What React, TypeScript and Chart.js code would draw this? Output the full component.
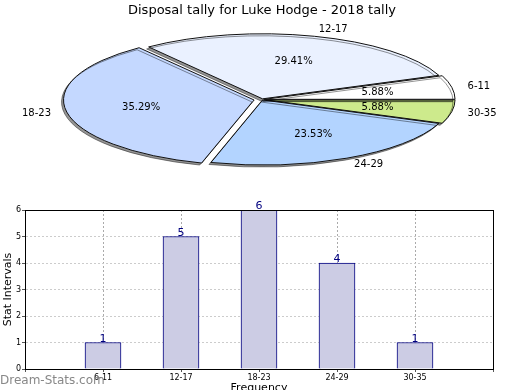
import React, { useEffect, useRef } from 'react';
import { Chart, registerables } from 'chart.js';

Chart.register(...registerables);

const FONT = "'DejaVu Sans', sans-serif";
Chart.defaults.font.family = FONT;

// ---- data ----
const titleText = 'Disposal tally for Luke Hodge - 2018 tally';
const categories = ['6-11', '12-17', '18-23', '24-29', '30-35'];
const counts = [1, 5, 6, 4, 1];
const sliceColors = ['#ffffff', '#eaf1ff', '#c4d8ff', '#b3d4ff', '#cdea8c'];
const sliceOffsets = [10, 8, 32, 6, 10];
const yMin = 0;
const yMax = 6;
const yStep = 1;
const xTitle = 'Frequency';
const yTitle = 'Stat Intervals';
const watermark = 'Dream-Stats.com';

const SY = 0.344;
const total = counts.reduce((a, b) => a + b, 0);
// Chart.js draws clockwise; reference goes counter-clockwise from 3 o'clock
const order = categories.map((_, i) => categories.length - 1 - i);

const ellipsePlugin = {
  id: 'ellipsePie',
  beforeDatasetsDraw(chart: any) {
    const arc = chart.getDatasetMeta(0).data[0];
    const ctx = chart.ctx;
    ctx.save();
    const base = ctx.getTransform();
    ctx.translate(arc.x, arc.y);
    ctx.scale(1, SY);
    ctx.translate(-arc.x, -arc.y);
    ctx.shadowColor = 'rgba(0,0,0,0.42)';
    ctx.shadowOffsetX = -2;
    ctx.shadowOffsetY = 2;
    ctx.shadowBlur = 0;
    // keep outline widths uniform: stroke the (already transformed) path in the unscaled space
    const origStroke = CanvasRenderingContext2D.prototype.stroke;
    ctx.stroke = function (...args: any[]) {
      this.save();
      this.setTransform(base);
      origStroke.apply(this, args as any);
      this.restore();
    };
  },
  afterDatasetsDraw(chart: any) {
    const ctx = chart.ctx;
    delete ctx.stroke;
    ctx.restore();
    const meta = chart.getDatasetMeta(0);
    const labels = chart.data.labels;
    const data = chart.data.datasets[0].data;
    ctx.save();
    ctx.font = `10px ${FONT}`;
    ctx.fillStyle = '#000';
    ctx.textBaseline = 'middle';
    meta.data.forEach((arc: any, i: number) => {
      const p = arc.getProps(['x', 'y', 'startAngle', 'endAngle', 'outerRadius', 'circumference'], true);
      const mid = (p.startAngle + p.endAngle) / 2;
      const off = (arc.options.offset || 0) / 4;
      const fix = 1 - Math.sin(Math.min(Math.PI, p.circumference || 0));
      const e = off * (1 + fix);
      const c = Math.cos(mid);
      const s = Math.sin(mid);
      const r = e + p.outerRadius * 0.6;
      const pct = ((data[i] / total) * 100).toFixed(2) + '%';
      ctx.textAlign = 'center';
      ctx.fillText(pct, p.x + c * r, p.y + s * r * SY);
      const ro = e + p.outerRadius;
      ctx.textAlign = c >= 0 ? 'left' : 'right';
      ctx.fillText(labels[i], p.x + c * (ro + 16), p.y + s * (ro * SY + 7));
    });
    ctx.restore();
  },
};

const barExtrasPlugin = {
  id: 'barExtras',
  afterDatasetsDraw(chart: any) {
    const ctx = chart.ctx;
    const meta = chart.getDatasetMeta(0);
    const data = chart.data.datasets[0].data;
    ctx.save();
    ctx.font = `11px ${FONT}`;
    ctx.fillStyle = '#000080';
    ctx.textAlign = 'center';
    ctx.textBaseline = 'bottom';
    meta.data.forEach((el: any, i: number) => {
      if (data[i] == null) return;
      ctx.fillText(String(data[i]), el.x, el.y + 2);
    });
    ctx.restore();
  },
  afterDraw(chart: any) {
    const ctx = chart.ctx;
    const a = chart.chartArea;
    ctx.save();
    ctx.strokeStyle = '#000';
    ctx.lineWidth = 1;
    const l = Math.round(a.left), t = Math.round(a.top), r = Math.round(a.right), b = Math.round(a.bottom);
    ctx.strokeRect(l + 0.5, t + 0.5, r - l, b - t);
    ctx.font = `12px ${FONT}`;
    ctx.fillStyle = '#888';
    ctx.textAlign = 'left';
    ctx.textBaseline = 'middle';
    ctx.fillText(watermark, 0, 181);
    ctx.restore();
  },
};

export default function App() {
  const pieRef = useRef<HTMLCanvasElement>(null);
  const barRef = useRef<HTMLCanvasElement>(null);

  useEffect(() => {
    const pie = new Chart(pieRef.current as HTMLCanvasElement, {
      type: 'pie',
      data: {
        labels: order.map((i) => categories[i]),
        datasets: [
          {
            data: order.map((i) => counts[i]),
            backgroundColor: order.map((i) => sliceColors[i]),
            offset: order.map((i) => sliceOffsets[i]),
            borderColor: '#111',
            borderWidth: 1,
          },
        ],
      },
      options: {
        responsive: false,
        animation: false,
        radius: 189,
        rotation: 90,
        layout: { padding: { left: 4, right: 0, top: 0, bottom: 19.6 } },
        plugins: {
          legend: { display: false },
          tooltip: { enabled: false },
          title: {
            display: true,
            text: titleText,
            color: '#000',
            font: { size: 13, weight: 'normal' },
            padding: { top: 3, bottom: 0 },
          },
        },
      } as any,
      plugins: [ellipsePlugin],
    });

    const bar = new Chart(barRef.current as HTMLCanvasElement, {
      type: 'bar',
      data: {
        labels: ['', ...categories, ''],
        datasets: [
          {
            data: [null, ...counts, null],
            backgroundColor: 'rgb(204,204,228)',
            borderColor: '#000080',
            borderWidth: 1,
            barThickness: 36,
          },
        ],
      },
      options: {
        responsive: false,
        animation: false,
        layout: { padding: { left: 0, top: 10, right: 27, bottom: 0 } },
        plugins: { legend: { display: false }, tooltip: { enabled: false } },
        scales: {
          x: {
            type: 'category',
            offset: false,
            z: 1,
            grid: { offset: false, color: '#aaa', tickLength: 3, tickColor: '#555' },
            border: { display: true, color: '#000', dash: [2, 2] },
            ticks: { font: { size: 8 }, color: '#000', padding: 1, maxRotation: 0, autoSkip: false },
            title: {
              display: true,
              text: xTitle,
              color: '#000',
              font: { size: 11 },
              padding: { top: 0, bottom: -5 },
            },
            afterFit: (s: any) => {
              s.height = 21;
            },
          },
          y: {
            min: yMin,
            max: yMax,
            grid: { color: '#ccc', tickLength: 3, tickColor: '#555' },
            border: { display: true, color: '#000', dash: [2, 2] },
            ticks: { stepSize: yStep, font: { size: 8 }, color: '#000', padding: 1 },
            title: {
              display: true,
              text: yTitle,
              color: '#000',
              font: { size: 11 },
              padding: { top: 2, bottom: 0 },
            },
            afterFit: (s: any) => {
              s.width = 25;
            },
          },
        },
      } as any,
      plugins: [barExtrasPlugin],
    });

    return () => {
      pie.destroy();
      bar.destroy();
    };
  }, []);

  return (
    <div style={{ position: 'absolute', left: 0, top: 0, width: 520, height: 390, background: '#fff' }}>
      <canvas ref={pieRef} width={520} height={200} style={{ position: 'absolute', left: 0, top: 0 }} />
      <canvas ref={barRef} width={520} height={190} style={{ position: 'absolute', left: 0, top: 200 }} />
    </div>
  );
}
